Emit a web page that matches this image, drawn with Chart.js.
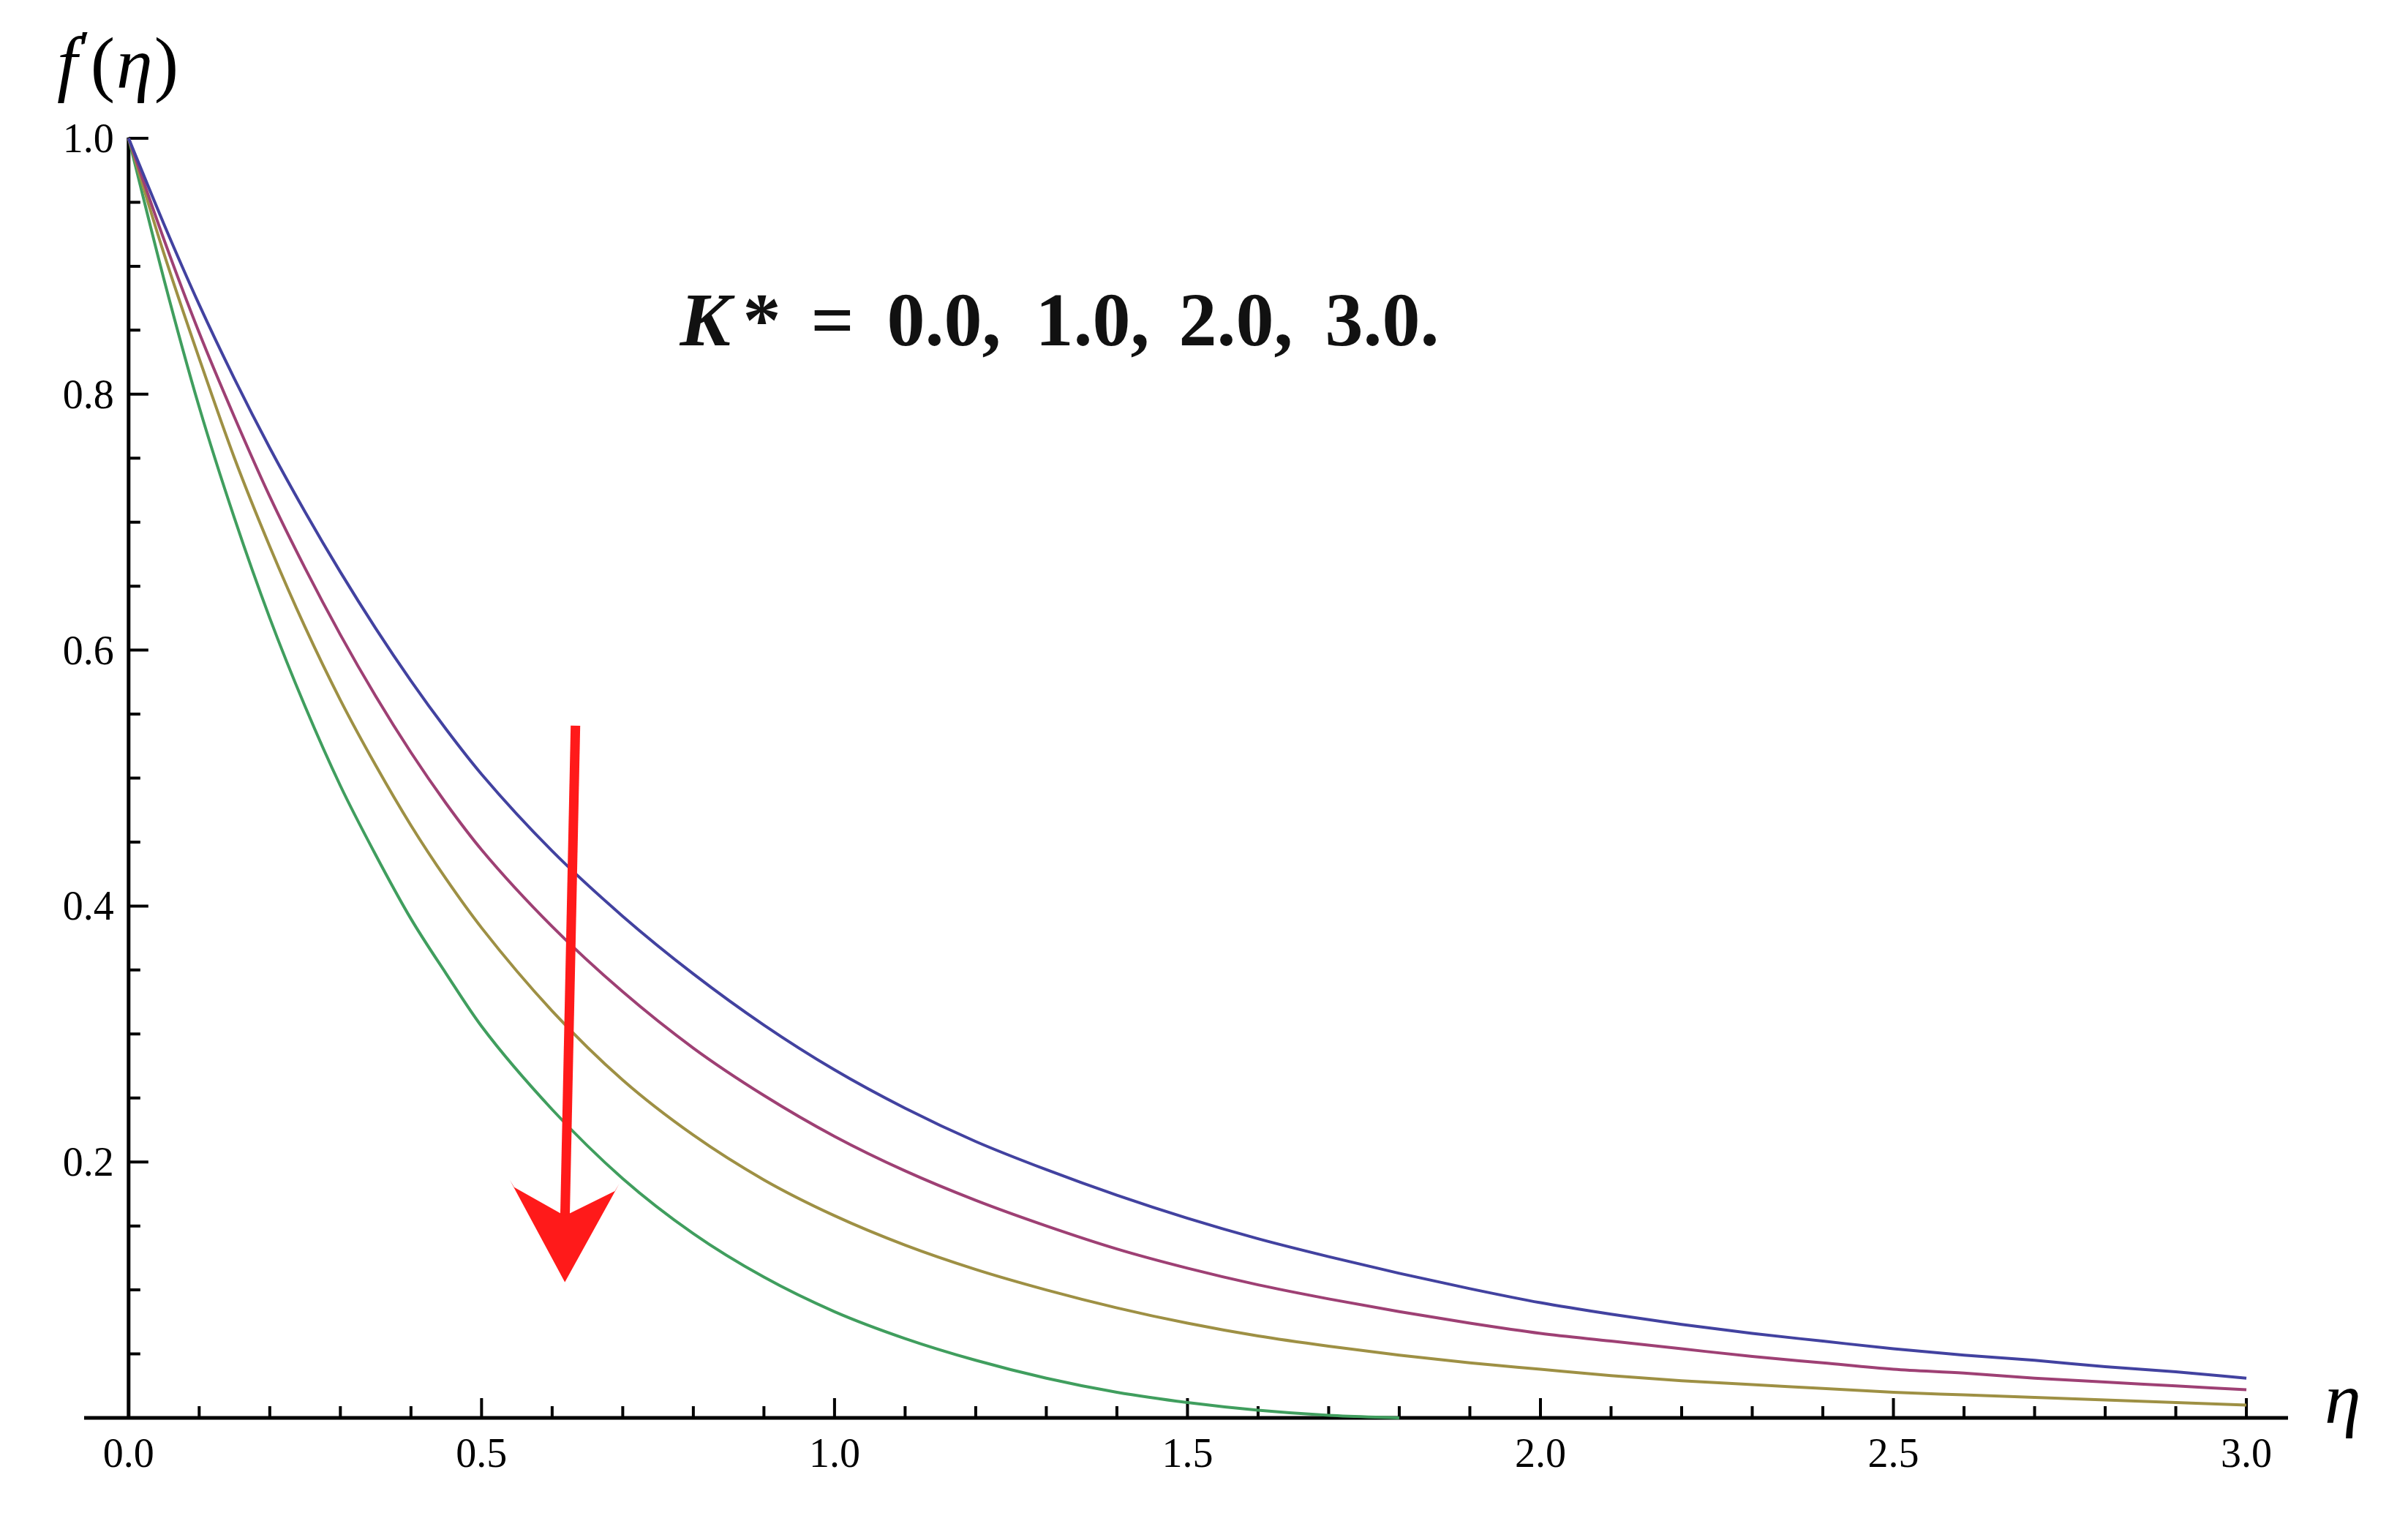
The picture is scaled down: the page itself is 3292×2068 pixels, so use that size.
<!DOCTYPE html>
<html>
<head>
<meta charset="utf-8">
<script src="https://cdn.jsdelivr.net/npm/chart.js@4/dist/chart.umd.min.js"></script>
<style>
  html, body { margin: 0; padding: 0; background: #ffffff; }
  canvas { display: block; }
</style>
</head>
<body>
<canvas id="velocityChart" width="3292" height="2068"></canvas>
<script>
// eta grid and f'(eta), one array per K* value
const etaValues = [0, 0.05, 0.1, 0.15, 0.2, 0.25, 0.3, 0.35, 0.4, 0.45, 0.5, 0.6, 0.7, 0.8, 0.9, 1.0,
                   1.1, 1.2, 1.3, 1.4, 1.5, 1.6, 1.7, 1.8, 1.9, 2.0, 2.1, 2.2, 2.3, 2.4, 2.5,
                   2.6, 2.7, 2.8, 2.9, 3.0];
const fK0 = [1.000, 0.933, 0.870, 0.812, 0.758, 0.708, 0.661, 0.617, 0.576, 0.538, 0.503, 0.443, 0.392, 0.347, 0.307, 0.272,
             0.242, 0.216, 0.194, 0.174, 0.156, 0.140, 0.126, 0.113, 0.101, 0.090, 0.081, 0.073, 0.066, 0.060, 0.054,
             0.049, 0.045, 0.040, 0.036, 0.031];
const fK1 = [1.000, 0.921, 0.848, 0.782, 0.720, 0.664, 0.612, 0.564, 0.520, 0.480, 0.444, 0.384, 0.333, 0.289, 0.252, 0.220,
             0.193, 0.170, 0.150, 0.132, 0.117, 0.104, 0.093, 0.083, 0.074, 0.066, 0.060, 0.054, 0.048, 0.043, 0.038,
             0.035, 0.031, 0.028, 0.025, 0.022];
const fK2 = [1.000, 0.910, 0.828, 0.750, 0.681, 0.618, 0.561, 0.510, 0.463, 0.421, 0.383, 0.318, 0.264, 0.221, 0.186, 0.158,
             0.135, 0.116, 0.100, 0.086, 0.074, 0.064, 0.056, 0.049, 0.043, 0.038, 0.033, 0.029, 0.026, 0.023, 0.020,
             0.018, 0.016, 0.014, 0.012, 0.010];
const fK3 = [1.000, 0.890, 0.790, 0.703, 0.625, 0.556, 0.494, 0.440, 0.390, 0.347, 0.306, 0.241, 0.187, 0.144, 0.110, 0.083,
             0.062, 0.045, 0.031, 0.020, 0.012, 0.006, 0.002, 0.000, null, null, null, null, null, null, null,
             null, null, null, null, null];

const kLabels = ['K* = 0.0', 'K* = 1.0', 'K* = 2.0', 'K* = 3.0'];
const lineColors = ['rgb(66,66,160)', 'rgb(158,64,116)', 'rgb(158,144,68)', 'rgb(64,158,94)'];

const xTickValues = [0, 0.5, 1.0, 1.5, 2.0, 2.5, 3.0];
const xTickLabels = ['0.0', '0.5', '1.0', '1.5', '2.0', '2.5', '3.0'];
const yTickValues = [0.2, 0.4, 0.6, 0.8, 1.0];
const yTickLabels = ['0.2', '0.4', '0.6', '0.8', '1.0'];

// red arrow in data coordinates: shaft top, notch, tip, left wing, right wing
const arrowPoints = [[0.633, 0.541], [0.618, 0.158], [0.618, 0.106], [0.540, 0.186], [0.695, 0.183]];

function toPoints(values) {
    return etaValues.map((e, i) => ({ x: e, y: values[i] }));
}

const seriesList = [fK0, fK1, fK2, fK3];

const data = {
    datasets: seriesList.map((s, i) => ({
        label: kLabels[i],
        data: toPoints(s),
        borderColor: lineColors[i],
        borderWidth: 4,
        pointRadius: 0,
        fill: false,
        spanGaps: false,
        cubicInterpolationMode: 'monotone',
        clip: false
    }))
};

const serif = '"Liberation Serif", "DejaVu Serif", serif';

const axesPlugin = {
    id: 'axesPlugin',
    beforeDatasetsDraw(chart) {
        const ctx = chart.ctx;
        const xs = chart.scales.x;
        const ys = chart.scales.y;
        const area = chart.chartArea;
        const x0 = xs.getPixelForValue(0);
        const y0 = ys.getPixelForValue(0);

        ctx.save();
        ctx.strokeStyle = '#000';
        ctx.fillStyle = '#000';

        // axis lines
        ctx.lineWidth = 5;
        ctx.beginPath();
        ctx.moveTo(area.left, y0);
        ctx.lineTo(area.right, y0);
        ctx.moveTo(x0, y0);
        ctx.lineTo(x0, ys.getPixelForValue(1.0) - 1);
        ctx.stroke();

        // x ticks, pointing up
        ctx.lineWidth = 4;
        ctx.beginPath();
        for (let k = 1; k <= 30; k++) {
            const v = k / 10;
            const px = xs.getPixelForValue(v);
            const len = (k % 5 === 0) ? 25 : 14;
            ctx.moveTo(px, y0);
            ctx.lineTo(px, y0 - 2 - len);
        }
        // y ticks, pointing right
        for (let k = 1; k <= 20; k++) {
            const v = k / 20;
            const py = ys.getPixelForValue(v);
            const len = (k % 4 === 0) ? 25 : 14;
            ctx.moveTo(x0, py);
            ctx.lineTo(x0 + 2 + len, py);
        }
        ctx.stroke();

        // tick labels
        ctx.font = '56px ' + serif;
        ctx.textAlign = 'center';
        ctx.textBaseline = 'alphabetic';
        xTickValues.forEach((v, i) => {
            ctx.fillText(xTickLabels[i], xs.getPixelForValue(v), y0 + 67);
        });
        ctx.textAlign = 'right';
        yTickValues.forEach((v, i) => {
            ctx.fillText(yTickLabels[i], x0 - 20, ys.getPixelForValue(v) + 19);
        });

        // axis titles
        ctx.textAlign = 'left';
        ctx.font = 'italic 100px ' + serif;
        ctx.fillText('\u03B7', area.right + 50, y0 + 7);

        let tx = 78;
        const ty = 120;
        ctx.font = 'italic 100px ' + serif;
        ctx.fillText('f', tx, ty);
        tx += ctx.measureText('f').width;
        ctx.font = '70px ' + serif;
        ctx.fillText('\u2032', tx + 2, ty - 30);
        tx += 18;
        ctx.font = '100px ' + serif;
        ctx.fillText('(', tx, ty);
        tx += ctx.measureText('(').width + 2;
        ctx.font = 'italic 100px ' + serif;
        ctx.fillText('\u03B7', tx, ty);
        tx += ctx.measureText('\u03B7').width + 2;
        ctx.font = '100px ' + serif;
        ctx.fillText(')', tx, ty);
        ctx.restore();
    },
    afterDatasetsDraw(chart) {
        const ctx = chart.ctx;
        const xs = chart.scales.x;
        const ys = chart.scales.y;
        const p = arrowPoints.map(a => [xs.getPixelForValue(a[0]), ys.getPixelForValue(a[1])]);

        ctx.save();
        ctx.fillStyle = '#ff1a1a';
        ctx.strokeStyle = '#ff1a1a';
        ctx.lineWidth = 13;
        ctx.beginPath();
        ctx.moveTo(p[0][0], p[0][1]);
        ctx.lineTo(p[1][0], p[1][1] + 10);
        ctx.stroke();
        ctx.beginPath();
        ctx.moveTo(p[3][0], p[3][1]);
        ctx.lineTo(p[2][0], p[2][1]);
        ctx.lineTo(p[4][0], p[4][1]);
        ctx.lineTo(p[4][0] - 6, p[4][1] + 10);
        ctx.lineTo(p[1][0], p[1][1]);
        ctx.lineTo(p[3][0] + 6, p[3][1] + 10);
        ctx.closePath();
        ctx.fill();

        // parameter annotation
        const ax = xs.getPixelForValue(0.781);
        const ay = ys.getPixelForValue(0.838);
        ctx.fillStyle = '#111';
        ctx.textAlign = 'left';
        ctx.font = 'italic bold 104px ' + serif;
        ctx.fillText('K', ax, ay);
        ctx.font = 'bold 104px ' + serif;
        ctx.fillText('*', ax + 86, ay);
        ctx.fillText('=', ax + 179, ay);
        const groups = ['0.0,', '1.0,', '2.0,', '3.0.'];
        const offsets = [283, 486, 682, 882];
        groups.forEach((g, i) => ctx.fillText(g, ax + offsets[i], ay));
        ctx.restore();
    }
};

const config = {
    type: 'line',
    data: data,
    options: {
        responsive: false,
        animation: false,
        layout: {
            padding: { left: 115, right: 164, top: 189, bottom: 130 }
        },
        scales: {
            x: { type: 'linear', min: -0.063, max: 3.059, display: false },
            y: { type: 'linear', min: 0, max: 1.0, display: false }
        },
        plugins: {
            legend: { display: false },
            tooltip: { enabled: false },
            title: { display: false }
        }
    },
    plugins: [axesPlugin]
};

const ctx = document.getElementById('velocityChart').getContext('2d');
const velocityChart = new Chart(ctx, config);
</script>
</body>
</html>
